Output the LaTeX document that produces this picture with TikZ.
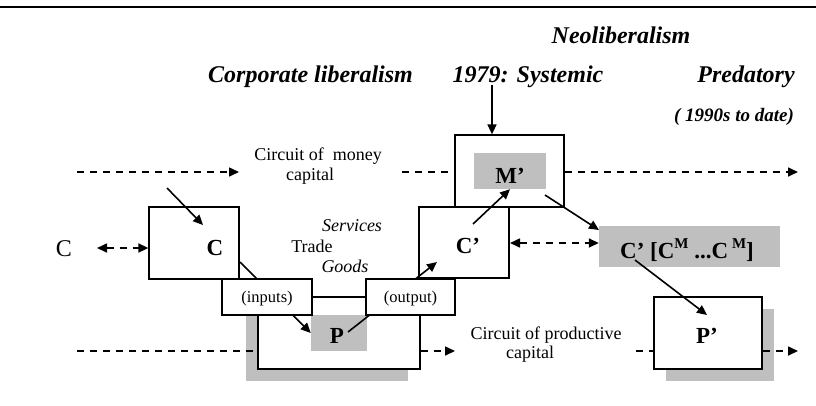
\documentclass[tikz,border=0pt]{standalone}
\usepackage{fontspec}
\setmainfont{Liberation Serif}
\usetikzlibrary{arrows.meta}
\newcommand\supM{\raisebox{.42em}{\fontsize{15pt}{15pt}\selectfont M}}
\begin{document}
\begin{tikzpicture}[x=1pt,y=-1pt,
  box/.style={draw=black, line width=1.3pt, fill=white, inner sep=0pt},
  grayfill/.style={fill=black!25, draw=none, inner sep=0pt},
  tipend/.style={-{Triangle[length=10pt,width=9pt]}},
  bothtips/.style={{Triangle[length=10pt,width=9pt]}-{Triangle[length=10pt,width=9pt]}},
  solidarrow/.style={line width=1.6pt},
  dashline/.style={line width=1.6pt, dash pattern=on 7pt off 6pt},
  title/.style={font=\fontsize{24}{28}\selectfont\bfseries\itshape, anchor=base, inner sep=0pt},
  subtitle/.style={font=\fontsize{19}{22}\selectfont\bfseries\itshape, anchor=base, inner sep=0pt},
  lbl/.style={font=\fontsize{18}{21}\selectfont, anchor=base, inner sep=0pt},
  ilbl/.style={font=\fontsize{18}{21}\selectfont\itshape, anchor=base, inner sep=0pt},
  small/.style={font=\fontsize{16.5}{20}\selectfont, anchor=base, inner sep=0pt},
  big/.style={font=\fontsize{23}{27}\selectfont\bfseries, anchor=base, inner sep=0pt},
  plain/.style={font=\fontsize{24}{28}\selectfont, anchor=base, inner sep=0pt},
]
\useasboundingbox (0,0) rectangle (816,405);
% top rule
\coordinate (ruleL) at (0,7);
\coordinate (ruleR) at (816,7);
\draw[line width=1.2pt] (ruleL) -- (ruleR);

% titles
\node[title] (neo) at (621,43) {Neoliberalism};
\node[title] (corp) at (310.5,82) {Corporate liberalism};
\node[title] (sys) at (528,82) {1979: Systemic};
\node[title] (pred) at (746,82) {Predatory};
\node[subtitle] (date) at (734,121) {( 1990s to date)};

% shadows
\node[grayfill, minimum width=162pt, minimum height=72pt] (Pshadow) at (327,345) {};
\node[grayfill, minimum width=108pt, minimum height=72pt] (P2shadow) at (720,345) {};

% lower boxes
\node[box, minimum width=162pt, minimum height=72pt] (Pbig) at (339,333) {};
\node[grayfill, minimum width=56pt, minimum height=36pt] (Pgray) at (339,333) {};
\node[box, minimum width=108pt, minimum height=72pt] (P2box) at (708,333) {};

% M' box
\node[box, minimum width=109pt, minimum height=72pt] (Mbox) at (509.5,171) {};
\node[grayfill, minimum width=72pt, minimum height=36pt] (Mgray) at (510,171) {};

% C' box and C box
\node[box, minimum width=90pt, minimum height=71pt] (C2box) at (464,242.5) {};
\node[box, minimum width=90pt, minimum height=72pt] (Cbox) at (194,243) {};

% C' [..] gray
\node[grayfill, minimum width=181pt, minimum height=41pt] (CMgray) at (689.5,246.5) {};

% arrows passing behind inputs/output
\coordinate (cpS) at (240,262);
\draw[solidarrow, tipend] (cpS) -- (Pgray.west);
\coordinate (pcS) at (348,332);
\coordinate (pcE) at (437,262);
\draw[solidarrow, tipend] (pcS) -- (pcE);

% inputs / output boxes
\node[box, minimum width=90pt, minimum height=36pt] (inputs) at (267,297) {};
\node[box, minimum width=89pt, minimum height=36pt] (output) at (410.5,297) {};
\node[small] (inputsT) at (267,302) {(inputs)};
\node[small] (outputT) at (410.5,302) {(output)};

% box texts
\node[big] (Ct) at (215,255) {C};
\node[big] (C2t) at (468,253) {C’};
\node[big] (Mt) at (510,183) {M’};
\node[big] (Pt) at (337,343) {P};
\node[big] (P2t) at (707,343) {P’};
\node[big] (CMt) at (687,258) {C’ [C\supM\ ...C\,\supM]};
\node[plain] (Cleft) at (64,256) {C};

% other labels
\node[lbl] (money1) at (318,160) {Circuit of \ money};
\node[lbl] (money2) at (310,180) {capital};
\node[lbl] (prod1) at (546,339) {Circuit of productive};
\node[lbl] (prod2) at (530,358) {capital};
\node[ilbl] (serv) at (352,231) {Services};
\node[lbl] (trade) at (312,252) {Trade};
\node[ilbl] (goods) at (345,272) {Goods};

% solid arrows
\coordinate (vS) at (492,85);
\draw[solidarrow, tipend] (vS) -- (vS |- Mbox.north);
\coordinate (cS) at (167,188);
\coordinate (cE) at (203,225);
\draw[solidarrow, tipend] (cS) -- (cE);
\coordinate (cmS) at (473,224);
\draw[solidarrow, tipend] (cmS) -- (Mgray.south);
\coordinate (mcS) at (545,195);
\coordinate (mcE) at (599,230);
\draw[solidarrow, tipend] (mcS) -- (mcE);
\coordinate (cpS2) at (635,260);
\coordinate (cpE2) at (707,315);
\draw[solidarrow, tipend] (cpS2) -- (cpE2);

% dashed lines - money circuit
\coordinate (m1) at (77,172);
\coordinate (m1e) at (239,172);
\draw[dashline, tipend] (m1) -- (m1e);
\coordinate (m2) at (402,172);
\draw[dashline] (m2) -- (m2 -| Mbox.west);
\coordinate (m3e) at (798,172);
\draw[dashline, tipend] (m3e -| Mbox.east) -- (m3e);

% dashed lines - productive circuit
\coordinate (p1) at (77,351);
\draw[dashline] (p1) -- (p1 -| Pbig.west);
\coordinate (p2e) at (455,351);
\draw[dashline, tipend] (p2e -| Pbig.east) -- (p2e);
\coordinate (p3) at (636,351);
\draw[dashline] (p3) -- (p3 -| P2box.west);
\coordinate (p4e) at (798,351);
\draw[dashline, tipend] (p4e -| P2box.east) -- (p4e);

% double dashed arrows
\coordinate (d1) at (97,248);
\draw[dashline, bothtips] (d1) -- (d1 -| Cbox.west);
\coordinate (d2) at (510,243);
\draw[dashline, bothtips] (d2) -- (d2 -| CMgray.west);
\end{tikzpicture}
\end{document}
